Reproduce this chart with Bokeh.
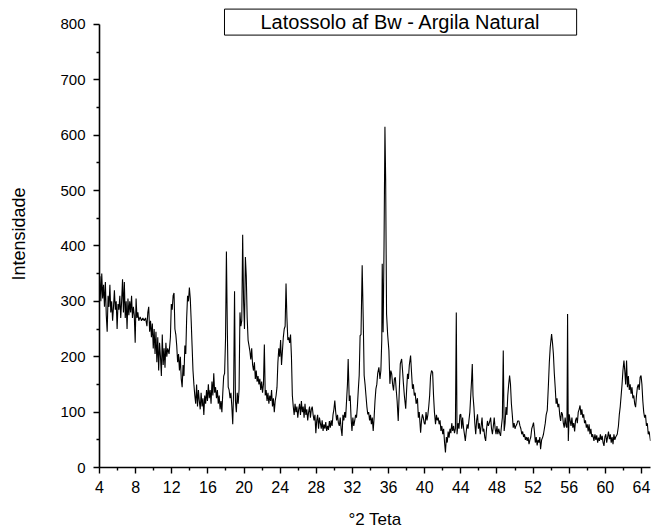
from bokeh.plotting import figure
from bokeh.models import Range1d, FixedTicker, Label
from bokeh.embed import file_html
from bokeh.resources import INLINE

# 2-theta positions (degrees) and intensities
two_theta = [
    4.00, 4.05, 4.15, 4.25, 4.35, 4.45, 4.55, 4.65, 4.75, 4.85, 4.95, 5.05, 5.15, 5.25, 5.35, 5.45,
    5.55, 5.65, 5.75, 5.85, 5.95, 6.05, 6.15, 6.25, 6.35, 6.45, 6.55, 6.65, 6.75, 6.85, 6.95, 7.05,
    7.15, 7.25, 7.35, 7.45, 7.55, 7.65, 7.75, 7.85, 7.95, 8.05, 8.15, 8.25, 8.35, 8.50, 8.65, 8.80,
    8.95, 9.10, 9.25, 9.35, 9.45, 9.55, 9.65, 9.75, 9.85, 9.95, 10.05, 10.15, 10.25, 10.35, 10.45,
    10.55, 10.65, 10.75, 10.85, 10.95, 11.05, 11.15, 11.25, 11.35, 11.45, 11.55, 11.70, 11.85, 11.95,
    12.05, 12.15, 12.25, 12.35, 12.45, 12.55, 12.65, 12.75, 12.85, 12.95, 13.05, 13.15, 13.25, 13.35,
    13.45, 13.55, 13.65, 13.75, 13.85, 13.95, 14.05, 14.15, 14.25, 14.35, 14.45, 14.55, 14.65, 14.75,
    14.85, 14.95, 15.05, 15.15, 15.25, 15.35, 15.45, 15.55, 15.65, 15.75, 15.85, 15.95, 16.05, 16.15,
    16.25, 16.35, 16.45, 16.55, 16.65, 16.75, 16.85, 16.95, 17.05, 17.15, 17.25, 17.35, 17.45, 17.55,
    17.65, 17.75, 17.85, 17.95, 18.05, 18.15, 18.25, 18.35, 18.45, 18.55, 18.65, 18.75, 18.85, 18.95,
    19.05, 19.15, 19.25, 19.35, 19.45, 19.55, 19.65, 19.75, 19.85, 19.95, 20.05, 20.15, 20.25, 20.35,
    20.45, 20.55, 20.65, 20.75, 20.85, 20.95, 21.05, 21.15, 21.25, 21.35, 21.45, 21.55, 21.65, 21.75,
    21.85, 21.95, 22.05, 22.15, 22.25, 22.35, 22.45, 22.55, 22.65, 22.75, 22.85, 22.95, 23.05, 23.15,
    23.25, 23.35, 23.45, 23.55, 23.65, 23.75, 23.85, 23.95, 24.05, 24.15, 24.25, 24.35, 24.45, 24.55,
    24.65, 24.75, 24.85, 24.95, 25.05, 25.15, 25.25, 25.35, 25.45, 25.55, 25.65, 25.75, 25.85, 25.95,
    26.05, 26.15, 26.25, 26.35, 26.45, 26.55, 26.65, 26.75, 26.85, 26.95, 27.05, 27.15, 27.25, 27.35,
    27.45, 27.55, 27.65, 27.75, 27.85, 27.95, 28.05, 28.15, 28.25, 28.35, 28.45, 28.55, 28.65, 28.75,
    28.85, 28.95, 29.05, 29.15, 29.25, 29.35, 29.45, 29.55, 29.65, 29.75, 29.85, 29.95, 30.05, 30.15,
    30.25, 30.35, 30.45, 30.55, 30.65, 30.75, 30.85, 30.95, 31.05, 31.15, 31.25, 31.35, 31.45, 31.53,
    31.65, 31.75, 31.85, 31.95, 32.05, 32.15, 32.25, 32.35, 32.45, 32.55, 32.65, 32.75, 32.85, 32.95,
    33.08, 33.20, 33.30, 33.40, 33.50, 33.60, 33.70, 33.80, 33.90, 34.00, 34.10, 34.20, 34.30, 34.40,
    34.50, 34.60, 34.70, 34.80, 34.93, 35.05, 35.15, 35.25, 35.30, 35.40, 35.50, 35.60, 35.68, 35.78,
    35.90, 36.04, 36.15, 36.25, 36.35, 36.45, 36.55, 36.65, 36.75, 36.85, 36.95, 37.07, 37.17, 37.30,
    37.45, 37.55, 37.65, 37.75, 37.90, 38.00, 38.10, 38.20, 38.30, 38.44, 38.55, 38.65, 38.75, 38.85,
    38.95, 39.05, 39.20, 39.30, 39.40, 39.55, 39.65, 39.75, 39.85, 39.95, 40.05, 40.15, 40.25, 40.35,
    40.45, 40.55, 40.65, 40.76, 40.88, 40.98, 41.08, 41.20, 41.30, 41.40, 41.50, 41.60, 41.70, 41.80,
    41.90, 42.00, 42.10, 42.20, 42.30, 42.40, 42.50, 42.60, 42.70, 42.80, 42.90, 43.00, 43.10, 43.20,
    43.30, 43.40, 43.50, 43.58, 43.70, 43.80, 43.90, 44.00, 44.10, 44.20, 44.30, 44.40, 44.50, 44.60,
    44.70, 44.80, 44.90, 45.00, 45.10, 45.20, 45.27, 45.35, 45.45, 45.55, 45.65, 45.75, 45.85, 45.95,
    46.05, 46.15, 46.25, 46.35, 46.45, 46.55, 46.65, 46.75, 46.85, 46.95, 47.05, 47.15, 47.30, 47.40,
    47.50, 47.60, 47.70, 47.80, 47.90, 48.00, 48.10, 48.20, 48.30, 48.40, 48.50, 48.60, 48.70, 48.80,
    48.90, 49.00, 49.10, 49.20, 49.30, 49.40, 49.50, 49.60, 49.70, 49.80, 49.90, 50.00, 50.10, 50.20,
    50.30, 50.43, 50.55, 50.65, 50.75, 50.85, 50.95, 51.05, 51.15, 51.25, 51.35, 51.45, 51.55, 51.65,
    51.75, 51.85, 51.95, 52.05, 52.15, 52.25, 52.35, 52.45, 52.55, 52.65, 52.75, 52.83, 52.95, 53.05,
    53.15, 53.25, 53.35, 53.45, 53.57, 53.70, 53.80, 53.90, 54.05, 54.15, 54.25, 54.35, 54.45, 54.55,
    54.65, 54.75, 54.85, 54.95, 55.05, 55.15, 55.25, 55.35, 55.45, 55.55, 55.65, 55.75, 55.82, 55.90,
    56.00, 56.10, 56.20, 56.30, 56.40, 56.50, 56.60, 56.70, 56.80, 56.90, 57.00, 57.10, 57.20, 57.30,
    57.40, 57.50, 57.60, 57.70, 57.80, 57.90, 58.00, 58.10, 58.20, 58.30, 58.40, 58.50, 58.60, 58.74,
    58.85, 58.95, 59.05, 59.15, 59.25, 59.35, 59.45, 59.55, 59.65, 59.75, 59.85, 59.95, 60.05, 60.15,
    60.25, 60.35, 60.45, 60.55, 60.65, 60.75, 60.85, 60.95, 61.05, 61.15, 61.32, 61.45, 61.55, 61.65,
    61.75, 61.85, 61.95, 62.06, 62.15, 62.25, 62.35, 62.45, 62.55, 62.65, 62.75, 62.85, 62.95, 63.05,
    63.15, 63.25, 63.35, 63.45, 63.55, 63.65, 63.75, 63.85, 63.95, 64.05, 64.15, 64.25, 64.35, 64.45,
    64.55, 64.65, 64.75, 64.85, 65.00,
]
intensity = [
    320, 345, 300, 350, 305, 330, 290, 335, 275, 245, 310, 290, 330, 280, 300, 265,
    290, 320, 285, 300, 250, 295, 285, 310, 270, 300, 340, 280, 335, 270, 300, 250,
    305, 275, 300, 280, 310, 270, 290, 275, 225, 305, 270, 280, 265, 272, 265, 270,
    265, 270, 255, 280, 290, 245, 265, 235, 260, 215, 250, 205, 245, 190, 235,
    175, 225, 200, 165, 240, 185, 215, 180, 225, 200, 215, 205, 235, 295,
    285, 310, 315, 250, 240, 220, 190, 205, 175, 200, 160, 145, 185, 165,
    220, 205, 270, 310, 300, 325, 305, 265, 220, 175, 150, 130, 115, 150,
    110, 140, 120, 105, 135, 110, 125, 95, 130, 115, 140, 120, 150, 125,
    140, 115, 155, 130, 170, 135, 145, 125, 140, 115, 130, 105, 120, 100,
    135, 165, 170, 230, 390, 250, 145, 140, 125, 135, 110, 78, 140, 318,
    120, 100, 135, 115, 140, 280, 255, 265, 420, 300, 250, 380, 345, 270,
    230, 220, 210, 195, 215, 185, 175, 190, 160, 175, 155, 165, 150, 160,
    140, 155, 135, 150, 222, 130, 140, 120, 135, 115, 130, 120, 140, 110,
    125, 100, 120, 130, 145, 190, 215, 200, 230, 185, 210, 235, 250, 255,
    332, 270, 230, 235, 225, 240, 200, 130, 110, 95, 115, 100, 110, 90,
    105, 115, 95, 120, 100, 110, 90, 115, 95, 105, 85, 100, 110, 90,
    105, 110, 95, 85, 95, 62, 85, 95, 70, 90, 80, 70, 85, 66,
    78, 70, 82, 66, 75, 68, 84, 72, 85, 75, 95, 105, 121, 100,
    85, 95, 80, 75, 90, 70, 57, 95, 85, 100, 90, 120, 150, 196,
    120, 130, 90, 66, 90, 75, 84, 95, 90, 110, 140, 166, 238, 240,
    365, 265, 166, 150, 130, 110, 96, 100, 85, 95, 78, 90, 66, 90,
    120, 142, 150, 170, 181, 160, 175, 230, 368, 244, 400, 615, 520, 277,
    240, 211, 151, 175, 169, 150, 139, 160, 163, 140, 120, 84, 130, 187,
    196, 175, 151, 130, 106, 140, 169, 160, 185, 202, 170, 142, 150, 130,
    135, 115, 125, 90, 100, 63, 85, 96, 90, 80, 78, 100, 85, 95,
    110, 130, 165, 175, 172, 130, 100, 78, 95, 85, 90, 78, 85, 66,
    75, 60, 70, 45, 27, 55, 45, 65, 54, 70, 62, 80, 66, 75,
    62, 70, 280, 60, 80, 70, 95, 96, 70, 90, 72, 60, 48, 65,
    78, 70, 85, 100, 130, 160, 187, 130, 109, 80, 60, 85, 96, 70,
    80, 60, 75, 90, 65, 70, 55, 48, 70, 84, 75, 80, 90, 70,
    60, 75, 90, 70, 60, 75, 60, 70, 62, 57, 75, 90, 211, 66,
    80, 109, 95, 130, 150, 166, 150, 115, 95, 72, 80, 70, 75, 78,
    84, 84, 75, 70, 60, 65, 55, 60, 50, 55, 48, 55, 42, 50,
    55, 70, 75, 81, 65, 45, 55, 40, 50, 45, 55, 33, 50, 54,
    60, 70, 80, 95, 103, 150, 190, 217, 241, 225, 205, 170, 145, 115,
    125, 109, 115, 95, 84, 100, 96, 80, 72, 90, 75, 72, 277, 48,
    96, 85, 75, 90, 72, 80, 65, 85, 90, 80, 100, 105, 112, 95,
    105, 90, 96, 80, 85, 72, 78, 65, 78, 60, 70, 55, 60, 48,
    60, 50, 58, 45, 54, 48, 60, 50, 57, 45, 39, 55, 60, 45,
    55, 65, 51, 60, 45, 55, 42, 60, 50, 55, 60, 75, 96, 110,
    130, 150, 175, 193, 175, 150, 193, 145, 165, 140, 150, 133, 145, 125,
    130, 115, 109, 130, 145, 150, 140, 163, 166, 150, 120, 100, 90, 95,
    75, 80, 60, 65, 48,
]

x_ticks = [4, 8, 12, 16, 20, 24, 28, 32, 36, 40, 44, 48, 52, 56, 60, 64]
x_minor = [6, 10, 14, 18, 22, 26, 30, 34, 38, 42, 46, 50, 54, 58, 62]
y_ticks = [0, 100, 200, 300, 400, 500, 600, 700, 800]
y_minor = [50, 150, 250, 350, 450, 550, 650, 750]

title_text = "Latossolo af Bw - Argila Natural"
x_label = "°2 Teta"
y_label = "Intensidade"

FONT = "Liberation Sans"

p = figure(width=652, height=531, output_backend="svg", toolbar_location=None,
           x_range=Range1d(4, 65), y_range=Range1d(0, 843),
           min_border_left=99, min_border_right=2, min_border_top=0, min_border_bottom=64)

p.line(two_theta, intensity, line_color="black", line_width=1.1)

p.grid.visible = False
p.outline_line_color = None

p.xaxis.ticker = FixedTicker(ticks=x_ticks, minor_ticks=x_minor)
p.yaxis.ticker = FixedTicker(ticks=y_ticks, minor_ticks=y_minor)
p.yaxis.bounds = (0, 800)

for ax in (p.xaxis[0], p.yaxis[0]):
    ax.axis_line_width = 1.6
    ax.axis_line_color = "black"
    ax.major_tick_line_color = "black"
    ax.minor_tick_line_color = "black"
    ax.major_tick_line_width = 1.4
    ax.minor_tick_line_width = 1.4
    ax.major_tick_in = 0
    ax.major_tick_out = 6
    ax.minor_tick_in = 0
    ax.minor_tick_out = 3
    ax.major_label_text_font = FONT
    ax.major_label_text_color = "black"
    ax.axis_label_text_font = FONT
    ax.axis_label_text_font_style = "normal"
    ax.axis_label_text_color = "black"

p.xaxis.axis_label = x_label
p.yaxis.axis_label = y_label
p.xaxis.major_label_text_font_size = "16px"
p.yaxis.major_label_text_font_size = "15px"
p.xaxis.axis_label_text_font_size = "17px"
p.yaxis.axis_label_text_font_size = "18px"
p.xaxis.major_label_standoff = 7
p.yaxis.major_label_standoff = 8
p.xaxis.axis_label_standoff = 14
p.yaxis.axis_label_standoff = 28

title = Label(x=37.33, y=804, text=title_text, text_align="center", text_baseline="middle",
              text_font=FONT, text_font_size="20px", text_color="black",
              border_line_color="black", border_line_width=1,
              background_fill_color="white", padding=(36, 2))
p.add_layout(title)

open("out.html", "w").write(file_html(p, INLINE))
